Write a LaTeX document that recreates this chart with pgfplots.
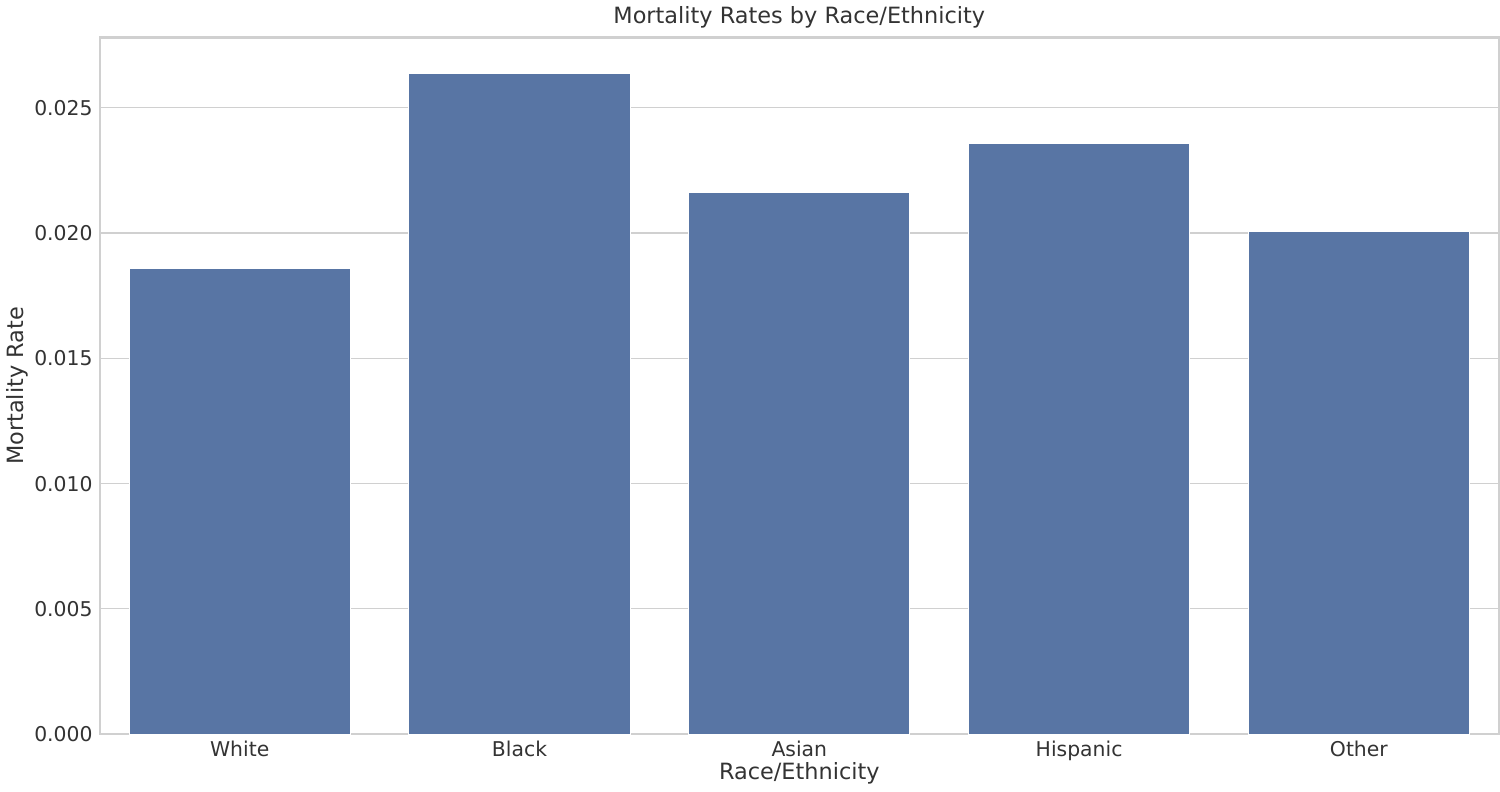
\documentclass[border=0pt]{standalone}
\usepackage{pgfplots}
\pgfplotsset{compat=1.18}
\usepackage{fontspec}
\setmainfont{DejaVu Sans}
\definecolor{barc}{HTML}{5875A4}
\definecolor{gridc}{HTML}{D0D0D0}
\begin{document}
\begin{tikzpicture}
\begin{axis}[
  scale only axis, width=687pt, height=342pt,
  xmin=-0.5, xmax=4.5, ymin=0, ymax=0.0278,
  xtick=data, xticklabels={White,Black,Asian,Hispanic,Other},
  ytick={0,0.005,0.01,0.015,0.02,0.025},
  yticklabel style={/pgf/number format/.cd,fixed,fixed zerofill,precision=3},
  /pgf/number format/assume math mode=true,
  scaled y ticks=false,
  ymajorgrids, grid style={gridc, line width=0.6pt},
  major tick length=0pt,
  axis line style={gridc, line width=1.2pt},
  tick label style={font=\fontsize{10}{12}\selectfont, color=black!80},
  label style={font=\fontsize{11}{13}\selectfont, color=black!80},
  title style={font=\fontsize{11}{13}\selectfont, color=black!80, yshift=-5pt},
  title={Mortality Rates by Race/Ethnicity},
  xlabel={Race/Ethnicity}, ylabel={Mortality Rate},
  xlabel style={yshift=6pt}, ylabel style={yshift=-4pt},
]
\addplot[ybar, bar width=0.79, fill=barc, draw=white, line width=0.5pt] coordinates {
(0,0.01858) (1,0.02638) (2,0.02163) (3,0.02358) (4,0.02008)};
\end{axis}
\end{tikzpicture}
\end{document}
